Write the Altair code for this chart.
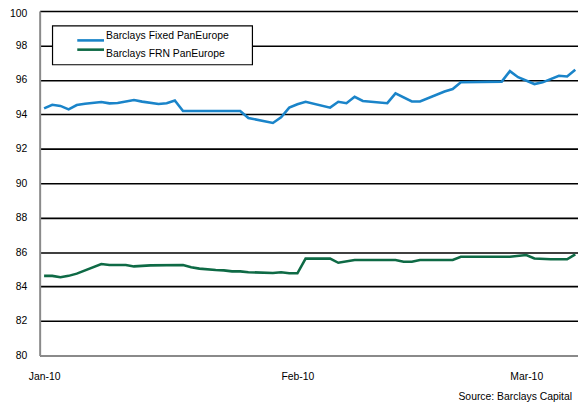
import altair as alt
import pandas as pd

series_names = ["Barclays Fixed PanEurope", "Barclays FRN PanEurope"]
series_colors = ["#1a84c9", "#0e6a45"]

fixed_dates = [
    "2010-01-01", "2010-01-02", "2010-01-03", "2010-01-04", "2010-01-05", "2010-01-06",
    "2010-01-08", "2010-01-09", "2010-01-10", "2010-01-12", "2010-01-13", "2010-01-15",
    "2010-01-16", "2010-01-17", "2010-01-18", "2010-01-25", "2010-01-26", "2010-01-29",
    "2010-01-30", "2010-01-31", "2010-02-01", "2010-02-02", "2010-02-05", "2010-02-06",
    "2010-02-07", "2010-02-08", "2010-02-09", "2010-02-12", "2010-02-13", "2010-02-15",
    "2010-02-16", "2010-02-19", "2010-02-20", "2010-02-21", "2010-02-26", "2010-02-27",
    "2010-02-28", "2010-03-02", "2010-03-03", "2010-03-05", "2010-03-06", "2010-03-07",
]
fixed_values = [
    94.35, 94.56, 94.49, 94.29, 94.54, 94.62, 94.72, 94.64, 94.66, 94.83,
    94.74, 94.60, 94.64, 94.80, 94.19, 94.19, 93.79, 93.50, 93.83, 94.39,
    94.59, 94.73, 94.39, 94.73, 94.65, 95.02, 94.78, 94.65, 95.22, 94.75,
    94.75, 95.33, 95.47, 95.86, 95.90, 96.51, 96.16, 95.76, 95.86, 96.24,
    96.20, 96.59,
]

frn_dates = [
    "2010-01-01", "2010-01-02", "2010-01-03", "2010-01-04", "2010-01-05", "2010-01-08",
    "2010-01-09", "2010-01-11", "2010-01-12", "2010-01-14", "2010-01-18", "2010-01-19",
    "2010-01-20", "2010-01-22", "2010-01-23", "2010-01-24", "2010-01-25", "2010-01-26",
    "2010-01-29", "2010-01-30", "2010-01-31", "2010-02-01", "2010-02-02", "2010-02-05",
    "2010-02-06", "2010-02-08", "2010-02-13", "2010-02-14", "2010-02-15", "2010-02-16",
    "2010-02-20", "2010-02-21", "2010-02-27", "2010-03-01", "2010-03-02", "2010-03-04",
    "2010-03-06", "2010-03-07",
]
frn_values = [
    84.62, 84.62, 84.54, 84.62, 84.75, 85.31, 85.25, 85.25, 85.17, 85.23,
    85.25, 85.12, 85.04, 84.96, 84.94, 84.88, 84.88, 84.83, 84.79, 84.83,
    84.77, 84.77, 85.62, 85.62, 85.38, 85.54, 85.54, 85.44, 85.44, 85.54,
    85.54, 85.73, 85.73, 85.83, 85.63, 85.58, 85.58, 85.87,
]

y_ticks = [80, 82, 84, 86, 88, 90, 92, 94, 96, 98, 100]
x_tick_dates = [(2010, 1, 1), (2010, 2, 1), (2010, 3, 1)]
source_text = "Source: Barclays Capital"

rows = []
for d, v in zip(fixed_dates, fixed_values):
    rows.append({"date": d + "T00:00:00", "value": v, "series": series_names[0]})
for d, v in zip(frn_dates, frn_values):
    rows.append({"date": d + "T00:00:00", "value": v, "series": series_names[1]})
df = pd.DataFrame(rows)
legend_df = pd.DataFrame({"series": series_names})

FONT = "Liberation Sans"
color_enc = alt.Color(
    "series:N",
    scale=alt.Scale(domain=series_names, range=series_colors),
    legend=None,
)

lines = alt.Chart(df).mark_line(strokeWidth=2.6).encode(
    x=alt.X(
        "date:T",
        scale=alt.Scale(
            domain=[
                alt.DateTime(year=2009, month=12, date=31, hours=11),
                alt.DateTime(year=2010, month=3, date=7, hours=8),
            ]
        ),
        axis=alt.Axis(
            title=None,
            values=[alt.DateTime(year=y, month=m, date=d) for (y, m, d) in x_tick_dates],
            format="%b-%y",
            grid=False,
            ticks=False,
            labelPadding=16,
            labelFont=FONT,
            labelFontSize=10.5,
            labelColor="#000000",
            domainColor="#8a8a8a",
            domainWidth=2,
        ),
    ),
    y=alt.Y(
        "value:Q",
        scale=alt.Scale(domain=[80, 100], nice=False, zero=False),
        axis=alt.Axis(
            title=None,
            values=y_ticks,
            grid=True,
            gridColor="#000000",
            gridWidth=1.6,
            gridOpacity=1,
            ticks=False,
            labelPadding=13,
            labelFont=FONT,
            labelFontSize=10.5,
            labelColor="#000000",
            labelOffset={"condition": {"test": "datum.value >= 100", "value": 2.5}, "value": 0},
            domainColor="#8a8a8a",
            domainWidth=2,
        ),
    ),
    color=color_enc,
)

# legend box, drawn with the chart's own colour scale
legend_box = alt.Chart(pd.DataFrame({"k": [0]})).mark_rect(
    fill="#ffffff", stroke="#000000", strokeWidth=1.2
).encode(x=alt.value(13), x2=alt.value(215), y=alt.value(15), y2=alt.value(54.3))

legend_y = alt.Y(
    "series:N",
    scale=alt.Scale(domain=series_names, range=[25, 43.7], padding=0),
    axis=None,
)
legend_lines = alt.Chart(legend_df).mark_rule(strokeWidth=2.6).encode(
    x=alt.value(38), x2=alt.value(65), y=legend_y, color=color_enc
)
legend_text = alt.Chart(legend_df).mark_text(
    align="left", baseline="middle", font=FONT, fontSize=10.5, color="#000000"
).encode(x=alt.value(67), y=legend_y, text="series:N")

source = alt.Chart(pd.DataFrame({"t": [source_text]})).mark_text(
    align="right", baseline="middle", font=FONT, fontSize=10.5, color="#000000"
).encode(text="t:N", x=alt.value(538), y=alt.value(390))

chart = alt.layer(lines, legend_box, legend_lines, legend_text, source).resolve_scale(
    y="independent"
).properties(
    width=544,
    height=348,
    autosize=alt.AutoSizeParams(type="none"),
    padding={"left": 32, "top": 1, "right": 0, "bottom": 45},
).configure_view(stroke="#222222", strokeWidth=1.5).configure(background="#ffffff")

chart.save("out.html", embed_options={"renderer": "svg", "actions": False})
